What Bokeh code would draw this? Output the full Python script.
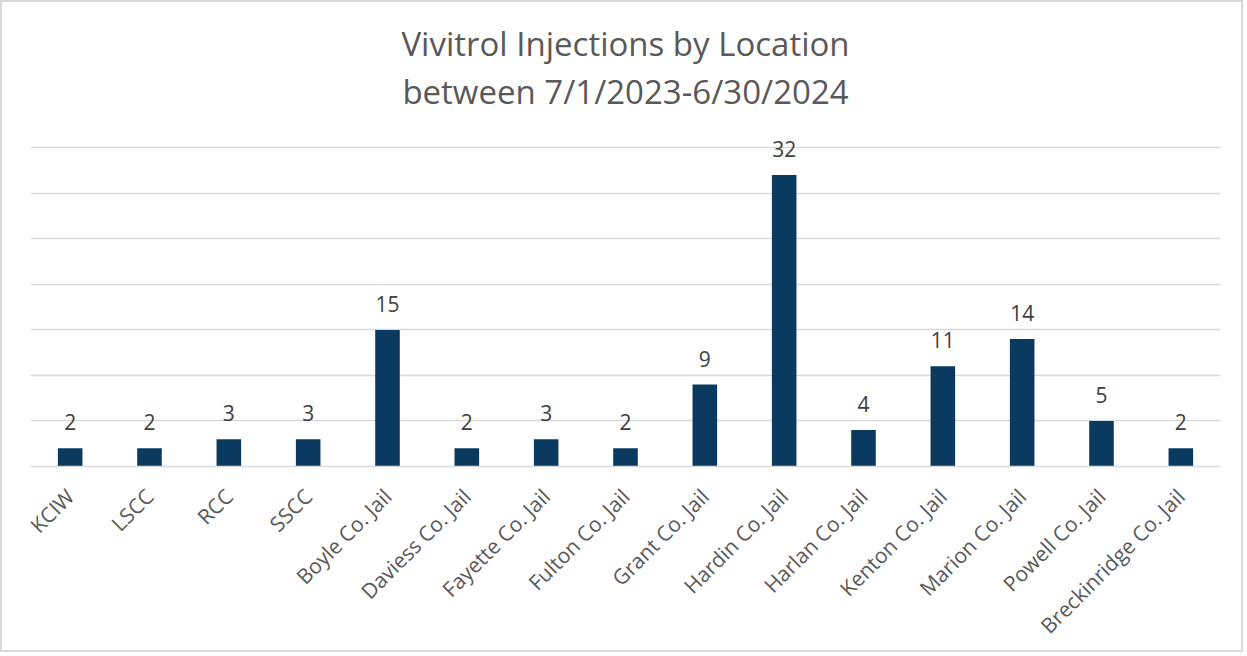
import math
from bokeh.plotting import figure
from bokeh.models import (ColumnDataSource, Range1d, Title, FixedTicker, CategoricalAxis)
from bokeh.core.properties import value
from bokeh.embed import file_html
from bokeh.resources import INLINE

locations = ["KCIW", "LSCC", "RCC", "SSCC", "Boyle Co. Jail", "Daviess Co. Jail",
             "Fayette Co. Jail", "Fulton Co. Jail", "Grant Co. Jail", "Hardin Co. Jail",
             "Harlan Co. Jail", "Kenton Co. Jail", "Marion Co. Jail", "Powell Co. Jail",
             "Breckinridge Co. Jail"]
injections = [2, 2, 3, 3, 15, 2, 3, 2, 9, 32, 4, 11, 14, 5, 2]
grid_values = [5, 10, 15, 20, 25, 30, 35]
title_lines = ["Vivitrol Injections by Location", "between 7/1/2023-6/30/2024"]

FONT = "Open Sans"
TITLE_SIZE = "33px"
source = ColumnDataSource(data=dict(loc=locations, val=injections,
                                    lbl=[str(v) for v in injections]))

# y range extends a little above the top gridline so the "32" label is not clipped
p = figure(x_range=locations, y_range=Range1d(0, 37), width=1243, height=652,
           output_backend="svg", toolbar_location=None,
           min_border_left=28, min_border_right=25, min_border_top=127,
           min_border_bottom=188)
p.styles = {"border": "2px solid #d9d9d9"}
p.x_range.range_padding = 0
p.outline_line_color = None
p.background_fill_color = "white"
p.border_fill_color = "white"

p.vbar(x="loc", top="val", width=0.31, source=source, fill_color="#0b3a60",
       line_color=None)
p.text(x="loc", y="val", text="lbl", source=source, text_align="center",
       text_baseline="alphabetic", y_offset=-26, text_font=value(FONT),
       text_font_size="21px", text_color="#404040")

p.yaxis.visible = False
p.ygrid.ticker = FixedTicker(ticks=grid_values)
p.ygrid.grid_line_color = "#d9d9d9"
p.ygrid.grid_line_width = 1.5
p.xgrid.grid_line_color = None

xa = p.xaxis[0]
xa.axis_line_color = "#d9d9d9"
xa.axis_line_width = 1.5
xa.major_tick_line_color = None
xa.minor_tick_line_color = None
xa.major_label_orientation = math.pi / 4
xa.major_label_text_font = FONT
xa.major_label_text_font_size = "21px"
xa.major_label_text_color = "#595959"
xa.major_label_standoff = 20

# second title line: drawn as the label of an empty axis above the frame
ta = CategoricalAxis(ticker=FixedTicker(ticks=[]),
                     axis_label=title_lines[1], axis_label_standoff=16,
                     axis_label_text_font=FONT, axis_label_text_font_size=TITLE_SIZE,
                     axis_label_text_font_style="normal", axis_label_text_color="#595959",
                     axis_line_color=None, major_tick_line_color=None,
                     minor_tick_line_color=None, major_tick_out=0, minor_tick_out=0,
                     major_label_standoff=0, group_text_font_size="0px",
                     subgroup_text_font_size="0px")
p.add_layout(ta, "above")

p.title = Title(text=title_lines[0], align="center", standoff=0,
                text_font=FONT, text_font_size=TITLE_SIZE, text_font_style="normal",
                text_color="#595959")

open("out.html", "w").write(file_html(p, INLINE))
